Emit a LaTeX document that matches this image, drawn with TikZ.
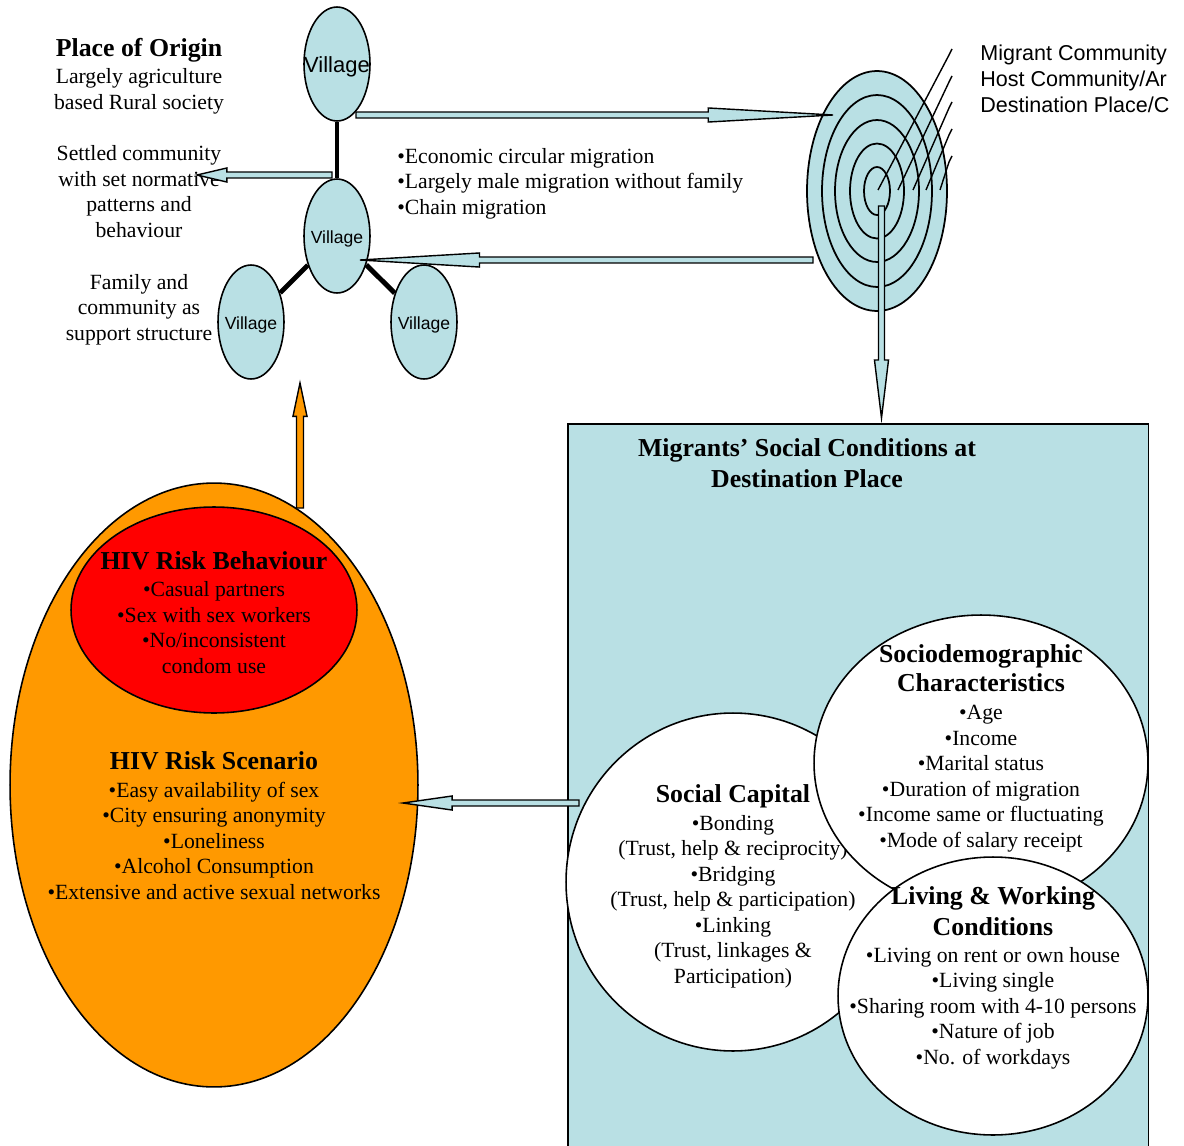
\documentclass[tikz,border=0pt]{standalone}
\usepackage{fontspec}
\setmainfont{Liberation Serif}
\newfontfamily\arialfont{Liberation Sans}
\usetikzlibrary{shapes.geometric,calc,positioning}
\definecolor{migblue}{RGB}{185,224,228}
\definecolor{migorange}{RGB}{255,153,0}
\definecolor{migred}{RGB}{255,0,0}

\tikzset{
  txt/.style={align=center, inner sep=0pt, anchor=base, font=\fontsize{12.35}{14.46}\selectfont},
  hd/.style={txt, font=\fontsize{14.7}{17.3}\selectfont\bfseries},
  sans/.style={align=left, inner sep=0pt, anchor=base west, font=\arialfont\fontsize{12.25}{14.74}\selectfont},
  vlabel/.style={inner sep=0pt, yshift=-1.7pt, font=\arialfont\fontsize{10}{12}\selectfont},
  village/.style={draw, ellipse, fill=migblue, line width=0.9pt, inner sep=0pt,
    minimum width=1.32cm, minimum height=2.28cm},
  ring/.style={draw, ellipse, fill=migblue, line width=1pt, inner sep=0pt},
  bubble/.style={draw, ellipse, fill=white, line width=0.9pt, inner sep=0pt},
  link/.style={line width=2.8pt},
  leader/.style={line width=0.8pt},
  blockarr/.style={draw=black, fill=migblue, line width=0.8pt, line join=miter}
}

% block arrow: [style] from, to, head length (pt), shaft half width
\newcommand{\blockarrow}[5][]{%
  \filldraw[blockarr,#1] let \p1=(#2), \p2=(#3),
    \n1={atan2(\y2-\y1,\x2-\x1)}, \n2={veclen(\x2-\x1,\y2-\y1)-#4} in
    ($(\p1)+(\n1+90:#5)$) -- ($(\p1)+(\n1:\n2)+(\n1+90:#5)$)
    -- ($(\p1)+(\n1:\n2)+(\n1+90:4pt)$) -- (\p2)
    -- ($(\p1)+(\n1:\n2)+(\n1-90:4pt)$) -- ($(\p1)+(\n1:\n2)+(\n1-90:#5)$)
    -- ($(\p1)+(\n1-90:#5)$) -- cycle;}

\begin{document}
\begin{tikzpicture}[x=0.02cm, y=-0.02cm]
  \useasboundingbox (0,0) rectangle (1184,1146);

  %% Destination box (multi-line nodes sit on their last baseline)
  \node[draw, fill=migblue, line width=0.9pt, minimum width=11.62cm, minimum height=14.74cm, anchor=north west] (dest) at (567,423) {};
  \node[hd] (desthd) at (807,487) {Migrants’ Social Conditions at\\Destination Place};

  %% Place of origin
  \node[hd] (orighd) at (139,56) {Place of Origin};
  \node[txt] (origtxt) at (139,109) {Largely agriculture\\based Rural society};
  \node[txt] (settled) at (139,237) {Settled community\\with set normative\\patterns and\\behaviour};
  \node[txt] (family) at (139,340) {Family and\\community as\\support structure};

  \node[village, label={[vlabel, font=\arialfont\fontsize{12.5}{14}\selectfont]center:Village}] (vtop) at (337,64) {};
  \node[village, label={[vlabel]center:Village}] (vmid) at (337,236) {};
  \node[village, label={[vlabel]center:Village}] (vleft) at (251,322) {};
  \node[village, label={[vlabel]center:Village}] (vright) at (424,322) {};
  \draw[link] (vtop) -- (vmid);
  \draw[link] (vmid) -- (vleft);
  \draw[link] (vmid) -- (vright);

  \node[txt, align=left, anchor=base west] (migtxt) at (397,214) {•Economic circular migration\\•Largely male migration without family\\•Chain migration};

  %% Destination rings
  \foreach \w/\h [count=\i] in {2.8/4.8, 2.2/3.84, 1.68/2.84, 1.08/1.9, 0.52/0.96}
    \node[ring, minimum width=\w cm, minimum height=\h cm] (ring\i) at (877,191) {};
  \foreach \sx/\ey in {878/49, 898/76, 913/102, 926/129, 940/156}
    \draw[leader] (\sx,190) -- (949,\ey+6) -- (952,\ey);
  \node[sans] (ringlbl) at (980,112) {Migrant Community\\Host Community/Ar\\Destination Place/C};

  %% Migration arrows
  \coordinate (out1) at (356,115);   \coordinate (out2) at (833,115);
  \coordinate (back1) at (813,260);  \coordinate (back2) at (360,260);
  \coordinate (norm1) at (332,175);  \coordinate (norm2) at (197,175);
  \coordinate (down1) at (881.5,206); \coordinate (down2) at (881.5,418);
  \blockarrow{out1}{out2}{71}{1.7pt}
  \blockarrow{back1}{back2}{68}{1.7pt}
  \blockarrow{norm1}{norm2}{17}{1.7pt}
  \blockarrow{down1}{down2}{33}{1.7pt}

  %% HIV risk
  \node[bubble, fill=migorange, minimum width=8.16cm, minimum height=12.08cm] (scen) at (214,785) {};
  \node[bubble, fill=migred, minimum width=5.72cm, minimum height=4.12cm] (behav) at (214,610) {};
  \node[hd] (behavhd) at (214,569) {HIV Risk Behaviour};
  \node[txt] (behavtxt) at (214,673) {•Casual partners\\•Sex with sex workers\\•No/inconsistent\\condom use};
  \node[hd] (scenhd) at (214,769) {HIV Risk Scenario};
  \node[txt] (scentxt) at (214,899) {•Easy availability of sex\\•City ensuring anonymity\\•Loneliness\\•Alcohol Consumption\\•Extensive and active sexual networks};
  \coordinate (up1) at (300,508); \coordinate (up2) at (300,383);
  \blockarrow[fill=migorange]{up1}{up2}{19}{2pt}

  %% Social conditions
  \node[bubble, minimum width=6.68cm, minimum height=6.76cm] (soccap) at (733,882) {};
  \node[hd] (soccaphd) at (733,802) {Social Capital};
  \node[txt] (soccaptxt) at (733,983) {•Bonding\\(Trust, help \& reciprocity)\\•Bridging\\(Trust, help \& participation)\\•Linking\\(Trust, linkages \&\\Participation)};
  \node[bubble, minimum width=6.68cm, minimum height=5.92cm] (socio) at (981,763) {};
  \node[hd, font=\fontsize{14.7}{16.4}\selectfont\bfseries] (sociohd) at (981,691) {Sociodemographic\\Characteristics};
  \node[txt] (sociotxt) at (981,847) {•Age\\•Income\\•Marital status\\•Duration of migration\\•Income same or fluctuating\\•Mode of salary receipt};
  \node[bubble, minimum width=6.2cm, minimum height=5.56cm] (living) at (993,996) {};
  \node[hd] (livinghd) at (993,935) {Living \& Working\\Conditions};
  \node[txt] (livingtxt) at (993,1064) {•Living on rent or own house\\•Living single\\•Sharing room with 4-10 persons\\•Nature of job\\•No. of workdays};
  \coordinate (sc1) at (579,803); \coordinate (sc2) at (403,803);
  \blockarrow{sc1}{sc2}{28}{1.7pt}
\end{tikzpicture}
\end{document}
